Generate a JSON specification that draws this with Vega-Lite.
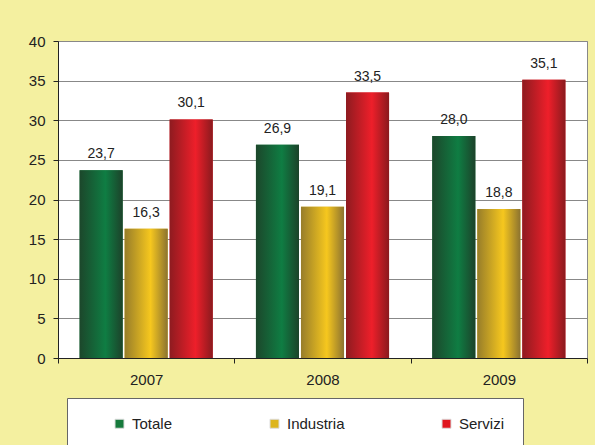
{
  "$schema": "https://vega.github.io/schema/vega-lite/v6.json",
  "width": 529,
  "height": 317,
  "autosize": "none",
  "padding": {"left": 58, "top": 41, "right": 8, "bottom": 87},
  "background": "#F4F0A0",
  "config": {
    "locale": {"number": {"decimal": ",", "thousands": ".", "grouping": [3], "currency": ["", " €"]}},
    "view": {"fill": "white", "stroke": "#888", "strokeWidth": 1},
    "font": "Liberation Sans"
  },
  "data": {
    "values": [
      {"anno": "2007", "serie": "Totale", "valore": 23.7},
      {"anno": "2007", "serie": "Industria", "valore": 16.3},
      {"anno": "2007", "serie": "Servizi", "valore": 30.1},
      {"anno": "2008", "serie": "Totale", "valore": 26.9},
      {"anno": "2008", "serie": "Industria", "valore": 19.1},
      {"anno": "2008", "serie": "Servizi", "valore": 33.5},
      {"anno": "2009", "serie": "Totale", "valore": 28.0},
      {"anno": "2009", "serie": "Industria", "valore": 18.8},
      {"anno": "2009", "serie": "Servizi", "valore": 35.1}
    ]
  },
  "encoding": {
    "x": {
      "field": "anno", "type": "nominal",
      "scale": {"paddingInner": 0, "paddingOuter": 0},
      "axis": {"title": null, "labelAngle": 0, "labelFontSize": 15, "labelColor": "#222", "domainColor": "#222", "tickColor": "#222", "tickSize": 5, "tickBand": "extent", "labelPadding": 9, "grid": false}
    },
    "xOffset": {
      "field": "serie", "type": "nominal",
      "scale": {"domain": ["Totale", "Industria", "Servizi"], "paddingInner": 0.044, "paddingOuter": 0.48}
    },
    "y": {
      "field": "valore", "type": "quantitative",
      "scale": {"domain": [0, 40], "nice": false},
      "axis": {"title": null, "values": [0, 5, 10, 15, 20, 25, 30, 35, 40], "labelFontSize": 15, "labelColor": "#222", "domainColor": "#222", "tickColor": "#222", "tickSize": 5, "labelPadding": 8, "gridColor": "#888", "gridWidth": 1}
    }
  },
  "layer": [
    {
      "mark": {"type": "bar"},
      "encoding": {
        "color": {
          "field": "serie", "type": "nominal",
          "scale": {"domain": ["Totale", "Industria", "Servizi"], "range": ["#167A3C", "#DDB51C", "#E0161E"]},
          "legend": {
            "orient": "none", "legendX": 9, "legendY": 357,
            "direction": "horizontal",
            "fillColor": "white", "strokeColor": "#666",
            "padding": 18,
            "columnPadding": 94,
            "symbolType": "square", "symbolSize": 81,
            "symbolStrokeColor": "#ddd", "symbolStrokeWidth": 1,
            "labelOffset": 5, "labelFontSize": 15, "labelColor": "#222",
            "labelExpr": "datum.label == 'Servizi' ? 'Servizi      ' : datum.label",
            "title": " ", "titleOrient": "left", "titlePadding": 27, "titleFontSize": 1
          }
        }
      }
    },
    {
      "transform": [{"filter": "datum.serie == 'Totale'"}],
      "mark": {"type": "bar", "color": {"gradient": "linear", "x1": 0, "y1": 0, "x2": 1, "y2": 0, "stops": [{"offset": 0, "color": "#1C472B"}, {"offset": 0.6, "color": "#0F7D43"}, {"offset": 1, "color": "#1C422A"}]}}
    },
    {
      "transform": [{"filter": "datum.serie == 'Industria'"}],
      "mark": {"type": "bar", "color": {"gradient": "linear", "x1": 0, "y1": 0, "x2": 1, "y2": 0, "stops": [{"offset": 0, "color": "#977D2A"}, {"offset": 0.6, "color": "#F6C71E"}, {"offset": 1, "color": "#8C7330"}]}}
    },
    {
      "transform": [{"filter": "datum.serie == 'Servizi'"}],
      "mark": {"type": "bar", "color": {"gradient": "linear", "x1": 0, "y1": 0, "x2": 1, "y2": 0, "stops": [{"offset": 0, "color": "#8E1B20"}, {"offset": 0.6, "color": "#EE1F2A"}, {"offset": 1, "color": "#8A1A1E"}]}}
    },
    {
      "mark": {"type": "text", "dy": -12, "baseline": "alphabetic", "fontSize": 14, "color": "#222"},
      "encoding": {"text": {"field": "valore", "type": "quantitative", "format": ".1f"}}
    }
  ]
}
